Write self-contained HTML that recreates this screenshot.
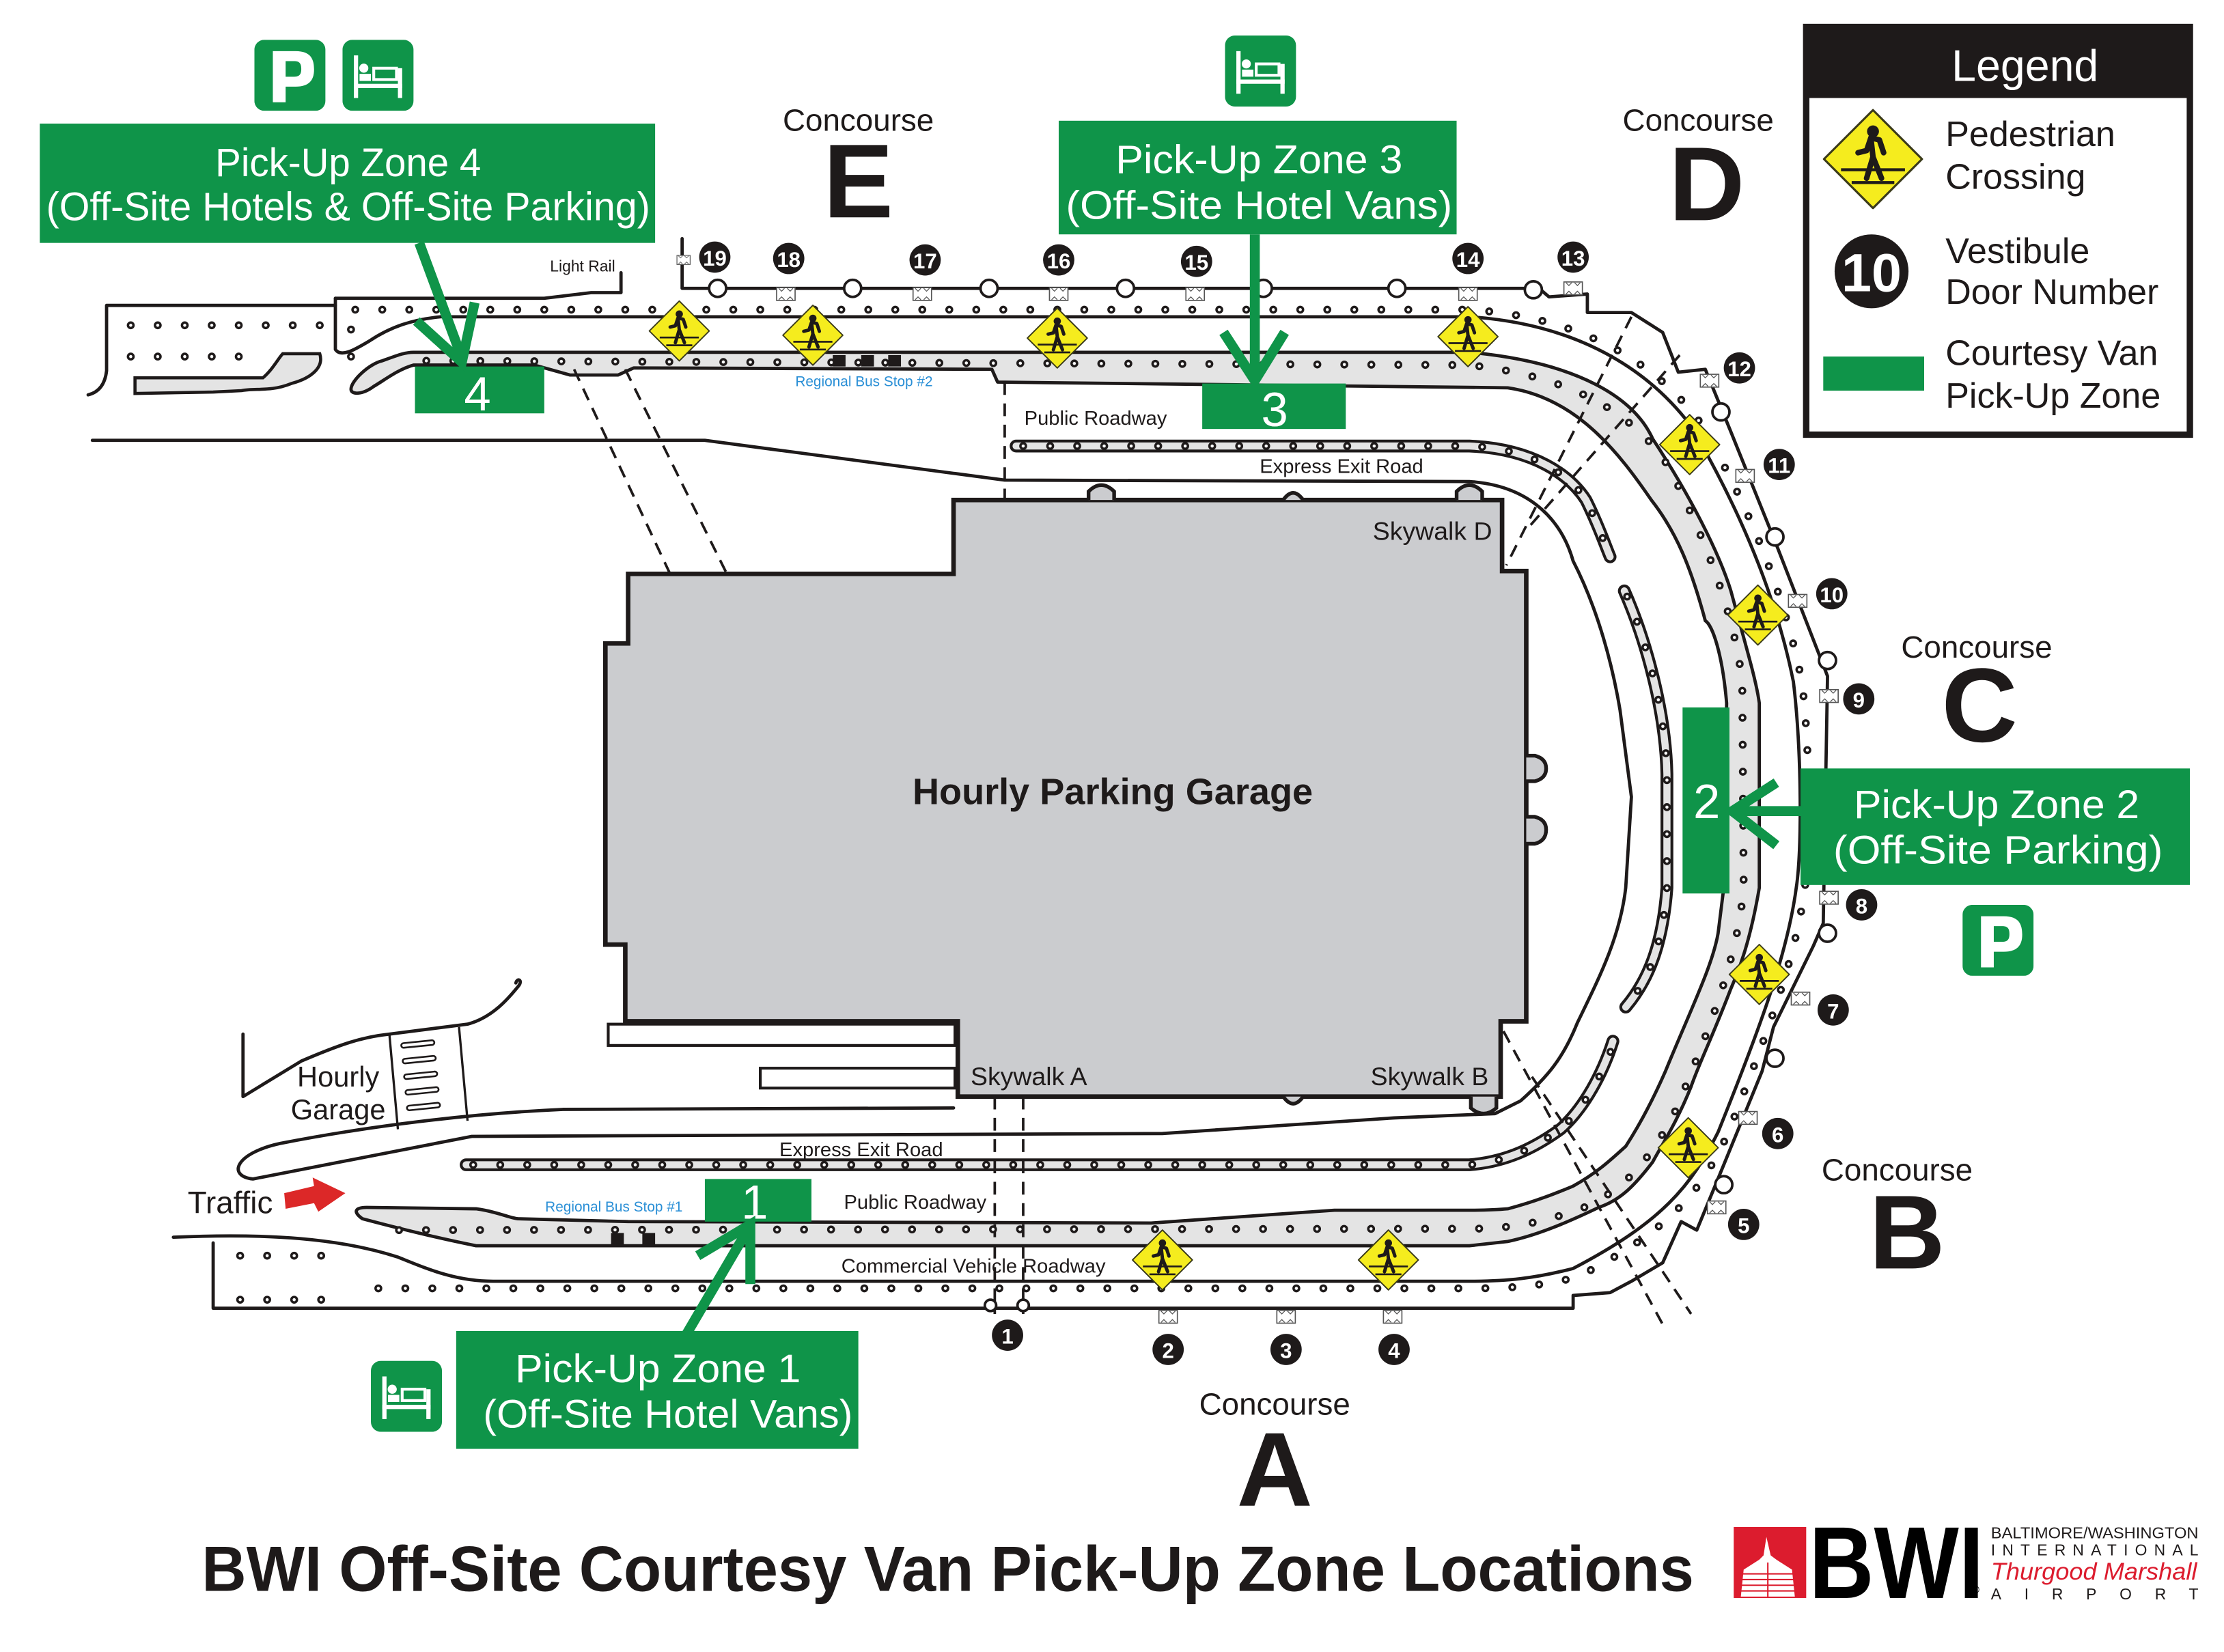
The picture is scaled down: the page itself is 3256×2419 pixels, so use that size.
<!DOCTYPE html>
<html><head><meta charset="utf-8"><style>
html,body{margin:0;padding:0;background:#fff;}
svg{display:block;}
text{font-family:"Liberation Sans",sans-serif;}
.ln{fill:none;stroke:#1e1a1a;stroke-width:2.3;stroke-linejoin:round;stroke-linecap:round}
.thin{fill:none;stroke:#1e1a1a;stroke-width:1.6}
.dsh{fill:none;stroke:#1e1a1a;stroke-width:1.8;stroke-dasharray:9 6}
.dA{fill:none;stroke:#1e1a1a;stroke-width:5.6;stroke-dasharray:0 19;stroke-linecap:round}
.dB{fill:none;stroke:#fff;stroke-width:2.2;stroke-dasharray:0 19;stroke-linecap:round}
.ga{fill:none;stroke:#0f9449;stroke-width:7;stroke-linecap:butt;stroke-linejoin:miter}
.zt{fill:#fff;font-size:28px;text-anchor:middle}
.cc{font-size:22px;text-anchor:middle;fill:#1e1a1a}
.cl{font-size:74px;font-weight:bold;text-anchor:middle;fill:#1e1a1a}
.sm{font-size:14px;fill:#1e1a1a}
.dn{fill:#fff;font-weight:bold;font-size:15px;text-anchor:middle}
</style></head><body>
<svg width="3256" height="2419" viewBox="0 0 1565 1163" preserveAspectRatio="none" xmlns="http://www.w3.org/2000/svg">
<defs>
<symbol id="ped" viewBox="-24 -24 48 48">
<polygon points="0,-23 23,0 0,23 -23,0" fill="#f5ec1e" stroke="#3a3a1a" stroke-width="1" stroke-linejoin="round"/>
<line x1="-15" y1="5" x2="15" y2="5" stroke="#1e1a1a" stroke-width="1.4"/>
<line x1="-10" y1="11" x2="10" y2="11" stroke="#1e1a1a" stroke-width="1.4"/>
<circle cx="0" cy="-13" r="2.8" fill="#1e1a1a"/>
<path d="M-1,-10 L3,-9 L5,-3 M-1,-10 L-3,-4 L-7,-3 M-1,-10 L0,-1 L-3,9 M0,-1 L4,9" stroke="#1e1a1a" stroke-width="2.6" fill="none" stroke-linecap="round" stroke-linejoin="round"/>
</symbol>
<symbol id="bed" viewBox="0 0 50 50">
<rect x="0" y="0" width="50" height="50" rx="7" fill="#0f9449"/>
<rect x="8" y="11" width="3" height="30" fill="#fff"/>
<rect x="39" y="20" width="3" height="21" fill="#fff"/>
<rect x="8" y="31" width="34" height="3" fill="#fff"/>
<circle cx="15" cy="20" r="3.2" fill="#fff"/>
<rect x="12" y="24" width="8" height="5" fill="#fff"/>
<rect x="21" y="19" width="18" height="10" fill="#fff"/>
<rect x="23" y="21" width="14" height="6" fill="#0f9449"/>
</symbol>
<symbol id="park" viewBox="0 0 50 50">
<rect x="0" y="0" width="50" height="50" rx="7" fill="#0f9449"/>
<path d="M13,44 L13,8 L29,8 C40,8 42,14 42,21 C42,29 38,33 29,33 L22,33 L22,44 Z M22,15 L22,26 L28,26 C32,26 33,24 33,20.5 C33,17 32,15 28,15 Z" fill="#fff" fill-rule="evenodd"/>
</symbol>
<symbol id="rd" viewBox="0 0 14 10">
<rect x="0.5" y="0.5" width="13" height="9" fill="#fff" stroke="#555" stroke-width="0.8"/>
<path d="M2,1 L4,3 L6,1 M8,1 L10,3 L12,1 M2,9 L4,7 L6,9 M8,9 L10,7 L12,9" stroke="#555" stroke-width="0.6" fill="none"/>
</symbol>
<path id="p1" d="M250,218 L1034,218 C1112,223 1165,255 1196,297 C1232,358 1256,420 1268,480 C1274,530 1274,600 1270,625 C1264,672 1246,722 1215,800 C1196,840 1175,866 1110,899 C1082,906 1060,907 1034,907 L255,907"/>
<path id="p2" d="M300,254 L1034,257 C1105,265 1150,290 1175,330 C1200,380 1220,430 1226,480 L1227,625 C1222,680 1200,730 1180,780 C1160,820 1140,840 1110,852 C1080,862 1060,865 1034,865 L262,866"/>
<path id="p3" d="M720,314 L1034,314 C1080,316 1105,335 1116,352 C1125,370 1130,385 1133,392"/>
<path id="p4" d="M1145,420 C1158,450 1172,500 1173,545 L1173,625 C1170,665 1160,690 1146,706"/>
<path id="p5" d="M333,820 L1034,820 C1060,818 1080,808 1098,795 C1115,780 1128,755 1135,736"/>
<path id="p6" d="M92,229 L230,229 M92,251 L175,251 M169,884 L245,884 M169,915 L245,915 M247,232 L247,252"/>
</defs>

<!-- Garage -->
<path d="M442,404 L671,404 L671,352 L1057,352 L1057,402 L1074,402 L1074,719 L1056,719 L1056,772 L674,772 L674,719 L440,719 L440,665 L426,665 L426,453 L442,453 Z" fill="#cbcccf" stroke="#1e1a1a" stroke-width="3.2"/>
<path d="M766,352 L766,346 Q775,337 784,346 L784,352 M1025,352 L1025,346 Q1034,337 1043,346 L1043,352 M903,352 Q910,342 917,352" fill="#cbcccf" stroke="#1e1a1a" stroke-width="2.6"/>
<path d="M1074,532 L1080,532 Q1088,534 1088,541 Q1088,548 1080,550 L1074,550 M1074,575 L1080,575 Q1088,577 1088,584 Q1088,592 1080,594 L1074,594" fill="#cbcccf" stroke="#1e1a1a" stroke-width="2.6"/>
<path d="M903,772 Q910,782 917,772 M1035,772 L1035,780 Q1044,788 1053,780 L1053,772" fill="#cbcccf" stroke="#1e1a1a" stroke-width="2.6"/>
<text x="783" y="566" font-size="26" font-weight="bold" text-anchor="middle" fill="#1e1a1a">Hourly Parking Garage</text>
<text x="1008" y="380" font-size="18" text-anchor="middle" fill="#1e1a1a">Skywalk D</text>
<text x="724" y="764" font-size="18" text-anchor="middle" fill="#1e1a1a">Skywalk A</text>
<text x="1006" y="764" font-size="18" text-anchor="middle" fill="#1e1a1a">Skywalk B</text>
<rect x="428" y="721" width="244" height="15" fill="#fff" stroke="#1e1a1a" stroke-width="2"/>
<rect x="535" y="752" width="137" height="14" fill="#fff" stroke="#1e1a1a" stroke-width="2"/>

<!-- Island (gray median) -->
<path d="M291,248 L1034,248 C1110,255 1150,280 1163,309 C1190,350 1210,390 1218,416 C1230,460 1236,480 1238,495 L1238,625 C1232,660 1225,680 1218,696 C1205,730 1195,750 1190,765 C1180,790 1170,805 1163,818 C1150,835 1140,845 1125,850 C1100,862 1080,870 1061,874 L1034,877 L335,877 C300,870 270,862 255,858 C248,853 250,850 258,850 L335,851 C350,853 360,858 365,858 L442,860 L810,861 L939,852 L1034,852 C1050,852 1061,851 1061,851 C1080,846 1095,840 1107,835 C1125,825 1135,815 1144,807 C1155,790 1165,770 1172,754 C1190,710 1205,680 1209,657 L1213,625 L1215,495 C1212,460 1205,440 1200,437 C1190,400 1180,375 1162,352 C1140,320 1110,280 1061,273 L702,269 L698,260 L446,259 L435,264 L401,264 L376,257 L291,257 C280,260 270,268 263,272 C255,278 247,278 247,274 C247,268 260,256 269,254 C280,250 285,248 291,248 Z" fill="#e4e4e4" stroke="#1e1a1a" stroke-width="2.3" stroke-linejoin="round"/>

<!-- Express strips -->
<path d="M715,314 L1034,314 C1080,316 1105,335 1116,352 C1125,370 1130,385 1133,392" fill="none" stroke="#1e1a1a" stroke-width="9" stroke-linecap="round"/>
<path d="M715,314 L1034,314 C1080,316 1105,335 1116,352 C1125,370 1130,385 1133,392" fill="none" stroke="#e4e4e4" stroke-width="5" stroke-linecap="round"/>
<path d="M1143,416 C1158,450 1172,500 1173,545 L1173,625 C1170,665 1160,690 1144,709" fill="none" stroke="#1e1a1a" stroke-width="9" stroke-linecap="round"/>
<path d="M1143,416 C1158,450 1172,500 1173,545 L1173,625 C1170,665 1160,690 1144,709" fill="none" stroke="#e4e4e4" stroke-width="5" stroke-linecap="round"/>
<path d="M328,820 L1034,820 C1060,818 1080,808 1098,795 C1115,780 1128,755 1135,733" fill="none" stroke="#1e1a1a" stroke-width="9" stroke-linecap="round"/>
<path d="M328,820 L1034,820 C1060,818 1080,808 1098,795 C1115,780 1128,755 1135,733" fill="none" stroke="#e4e4e4" stroke-width="5" stroke-linecap="round"/>

<!-- Curb -->
<path class="ln" d="M236,210 L236,246 C240,252 250,246 260,240 C275,230 290,225 310,223 L1034,223 C1110,228 1160,260 1190,300 C1225,360 1250,420 1262,480 C1268,530 1268,600 1264,625 C1258,670 1240,720 1209,797 C1190,835 1170,860 1107,893 C1080,900 1060,902 1034,902 L347,902 C320,902 300,893 280,885 C240,872 190,868 122,871"/>
<path class="ln" d="M236,210 L383,210 L416,206 L437,206 L437,192"/>

<!-- Terminal edge -->
<path class="ln" d="M480,168 L480,203 L1083,203 L1090,209 L1117,207 L1117,220 L1148,220 L1170,234 L1181,262 L1200,260 L1218,304 L1251,386 L1286,476 L1283,650 L1276,666 L1248,723 L1240,754 L1213,820 L1194,866 L1183,860 L1170,889 L1148,902 L1133,910 L1107,912 L1107,921 L150,921 L150,875"/>

<!-- Inner road -->
<path class="ln" d="M65,310 L496,310 L707,338 L1034,339 C1080,342 1100,370 1107,395 C1125,430 1135,470 1140,500 L1148,561 L1144,625 C1140,660 1125,689 1110,720 C1100,745 1089,758 1070,775 L1052,784 L981,787 L818,798 L332,800 L178,830 C160,828 165,812 197,805 C258,793 330,784 396,781 L671,780"/>

<!-- Top-left lot -->
<path class="ln" d="M236,215 L75,215 L75,261 C74,270 70,276 62,278"/>
<path d="M95,266 L185,266 C192,260 196,252 199,249 L225,249 C228,258 220,266 205,270 C190,276 180,273 170,275 L150,276 L95,277 Z" fill="#e4e4e4" stroke="#1e1a1a" stroke-width="2.2"/>

<!-- Hourly garage -->
<path class="ln" d="M171,728 L171,772 L212,747 C240,735 255,730 274,728 L329,721 C348,716 360,700 365,694 C368,690 364,688 363,692"/>
<path class="thin" d="M274,728 L280,795 M323,723 L329,789"/>
<g stroke="#1e1a1a" stroke-width="4.5" stroke-linecap="round"><line x1="284" y1="736" x2="304" y2="734"/><line x1="285" y1="747" x2="305" y2="745"/><line x1="286" y1="758" x2="306" y2="756"/><line x1="287" y1="769" x2="307" y2="767"/><line x1="288" y1="780" x2="308" y2="778"/></g>
<g stroke="#fff" stroke-width="2" stroke-linecap="round"><line x1="284" y1="736" x2="304" y2="734"/><line x1="285" y1="747" x2="305" y2="745"/><line x1="286" y1="758" x2="306" y2="756"/><line x1="287" y1="769" x2="307" y2="767"/><line x1="288" y1="780" x2="308" y2="778"/></g>
<text x="238" y="765" font-size="20" text-anchor="middle" fill="#1e1a1a">Hourly</text>
<text x="238" y="788" font-size="20" text-anchor="middle" fill="#1e1a1a">Garage</text>

<!-- Dashed walkways -->
<path class="dsh" d="M404,260 L472,405 M440,260 L512,405 M707,269 L707,352 M700,772 L700,925 M720,772 L720,925 M1148,223 L1060,398 M1182,250 L1075,372 M1058,726 L1172,936 M1078,758 L1190,925"/>

<!-- Dots -->
<g class="dA"><use href="#p1"/><use href="#p2"/><use href="#p3"/><use href="#p4"/><use href="#p5"/><use href="#p6"/></g>
<g class="dB"><use href="#p1"/><use href="#p2"/><use href="#p3"/><use href="#p4"/><use href="#p5"/><use href="#p6"/></g>

<!-- Bus stop markers -->
<g fill="#1e1a1a"><rect x="586" y="250" width="9" height="8"/><rect x="606" y="250" width="9" height="8"/><rect x="625" y="250" width="9" height="8"/><rect x="430" y="868" width="9" height="8"/><rect x="452" y="868" width="9" height="8"/></g>

<!-- Door rings -->
<g fill="#fff" stroke="#1e1a1a" stroke-width="1.8">
<circle cx="505" cy="203" r="6"/><circle cx="600" cy="203" r="6"/><circle cx="696" cy="203" r="6"/><circle cx="792" cy="203" r="6"/><circle cx="889" cy="203" r="6"/><circle cx="983" cy="203" r="6"/><circle cx="1079" cy="204" r="6"/>
<circle cx="1211" cy="290" r="6"/><circle cx="1249" cy="378" r="6"/><circle cx="1286" cy="465" r="6"/><circle cx="1286" cy="657" r="6"/><circle cx="1249" cy="745" r="6"/><circle cx="1213" cy="834" r="6"/>
<circle cx="697" cy="919" r="4"/><circle cx="720" cy="919" r="4"/>
</g>
<g>
<use href="#rd" x="546" y="202" width="14" height="10"/><use href="#rd" x="642" y="202" width="14" height="10"/><use href="#rd" x="738" y="202" width="14" height="10"/><use href="#rd" x="834" y="202" width="14" height="10"/><use href="#rd" x="1026" y="202" width="14" height="10"/><use href="#rd" x="1100" y="198" width="14" height="10"/><use href="#rd" x="476" y="176" width="10" height="14"/>
<use href="#rd" x="1196" y="262" width="14" height="12"/><use href="#rd" x="1221" y="329" width="14" height="12"/><use href="#rd" x="1258" y="417" width="14" height="12"/><use href="#rd" x="1280" y="484" width="14" height="12"/><use href="#rd" x="1280" y="626" width="14" height="12"/><use href="#rd" x="1260" y="697" width="14" height="12"/><use href="#rd" x="1223" y="781" width="14" height="12"/><use href="#rd" x="1201" y="844" width="14" height="12"/>
<use href="#rd" x="815" y="922" width="14" height="10"/><use href="#rd" x="898" y="922" width="14" height="10"/><use href="#rd" x="973" y="922" width="14" height="10"/>
</g>

<!-- Pedestrian crossings -->
<g>
<use href="#ped" x="456" y="211" width="44" height="44"/><use href="#ped" x="550" y="214" width="44" height="44"/><use href="#ped" x="722" y="216" width="44" height="44"/><use href="#ped" x="1011" y="215" width="44" height="44"/>
<use href="#ped" x="1167" y="291" width="44" height="44"/><use href="#ped" x="1215" y="411" width="44" height="44"/><use href="#ped" x="1216" y="664" width="44" height="44"/><use href="#ped" x="1166" y="786" width="44" height="44"/>
<use href="#ped" x="796" y="865" width="44" height="44"/><use href="#ped" x="955" y="865" width="44" height="44"/>
</g>

<!-- Door numbers -->
<g>
<circle cx="503" cy="181" r="11" fill="#1e1a1a"/><text class="dn" x="503" y="187">19</text>
<circle cx="555" cy="182" r="11" fill="#1e1a1a"/><text class="dn" x="555" y="188">18</text>
<circle cx="651" cy="183" r="11" fill="#1e1a1a"/><text class="dn" x="651" y="189">17</text>
<circle cx="745" cy="183" r="11" fill="#1e1a1a"/><text class="dn" x="745" y="189">16</text>
<circle cx="842" cy="184" r="11" fill="#1e1a1a"/><text class="dn" x="842" y="190">15</text>
<circle cx="1033" cy="182" r="11" fill="#1e1a1a"/><text class="dn" x="1033" y="188">14</text>
<circle cx="1107" cy="181" r="11" fill="#1e1a1a"/><text class="dn" x="1107" y="187">13</text>
<circle cx="1224" cy="259" r="11" fill="#1e1a1a"/><text class="dn" x="1224" y="265">12</text>
<circle cx="1252" cy="327" r="11" fill="#1e1a1a"/><text class="dn" x="1252" y="333">11</text>
<circle cx="1289" cy="418" r="11" fill="#1e1a1a"/><text class="dn" x="1289" y="424">10</text>
<circle cx="1308" cy="492" r="11" fill="#1e1a1a"/><text class="dn" x="1308" y="498">9</text>
<circle cx="1310" cy="637" r="11" fill="#1e1a1a"/><text class="dn" x="1310" y="643">8</text>
<circle cx="1290" cy="711" r="11" fill="#1e1a1a"/><text class="dn" x="1290" y="717">7</text>
<circle cx="1251" cy="798" r="11" fill="#1e1a1a"/><text class="dn" x="1251" y="804">6</text>
<circle cx="1227" cy="862" r="11" fill="#1e1a1a"/><text class="dn" x="1227" y="868">5</text>
<circle cx="709" cy="940" r="11" fill="#1e1a1a"/><text class="dn" x="709" y="946">1</text>
<circle cx="822" cy="950" r="11" fill="#1e1a1a"/><text class="dn" x="822" y="956">2</text>
<circle cx="905" cy="950" r="11" fill="#1e1a1a"/><text class="dn" x="905" y="956">3</text>
<circle cx="981" cy="950" r="11" fill="#1e1a1a"/><text class="dn" x="981" y="956">4</text>
</g>

<!-- Road labels -->
<text x="410" y="191" font-size="11" text-anchor="middle" fill="#1e1a1a">Light Rail</text>
<text x="608" y="272" font-size="10" text-anchor="middle" fill="#2a8fd6">Regional Bus Stop #2</text>
<text class="sm" x="771" y="299" text-anchor="middle">Public Roadway</text>
<text class="sm" x="944" y="333" text-anchor="middle">Express Exit Road</text>
<text class="sm" x="606" y="814" text-anchor="middle">Express Exit Road</text>
<text x="432" y="853" font-size="10" text-anchor="middle" fill="#2a8fd6">Regional Bus Stop #1</text>
<text class="sm" x="644" y="851" text-anchor="middle">Public Roadway</text>
<text class="sm" x="685" y="896" text-anchor="middle">Commercial Vehicle Roadway</text>
<text x="162" y="854" font-size="22" text-anchor="middle" fill="#1e1a1a">Traffic</text>
<polygon points="200,840 221,835 220,829 243,840 224,853 221,847 201,851" fill="#dc2828"/>

<!-- Concourses -->
<text class="cc" x="604" y="92">Concourse</text><text class="cl" x="604" y="153">E</text>
<text class="cc" x="1195" y="92">Concourse</text><text class="cl" x="1201" y="155">D</text>
<text class="cc" x="1391" y="463">Concourse</text><text class="cl" x="1393" y="522">C</text>
<text class="cc" x="1335" y="831">Concourse</text><text class="cl" x="1342" y="893">B</text>
<text class="cc" x="897" y="996">Concourse</text><text class="cl" x="897" y="1060">A</text>

<!-- Green zone markers -->
<rect x="292" y="258" width="91" height="33" fill="#0f9449"/><text x="336" y="289" font-size="34" fill="#fff" text-anchor="middle">4</text>
<rect x="846" y="270" width="101" height="32" fill="#0f9449"/><text x="897" y="300" font-size="34" fill="#fff" text-anchor="middle">3</text>
<rect x="1184" y="498" width="33" height="131" fill="#0f9449"/><text x="1201" y="576" font-size="34" fill="#fff" text-anchor="middle">2</text>
<rect x="496" y="830" width="75" height="30" fill="#0f9449"/><text x="531" y="858" font-size="34" fill="#fff" text-anchor="middle">1</text>

<!-- Zone boxes -->
<rect x="28" y="87" width="433" height="84" fill="#0f9449"/>
<text class="zt" x="245" y="124" textLength="187" lengthAdjust="spacingAndGlyphs">Pick-Up Zone 4</text>
<text class="zt" x="245" y="155" textLength="425" lengthAdjust="spacingAndGlyphs">(Off-Site Hotels &amp; Off-Site Parking)</text>
<rect x="745" y="85" width="280" height="80" fill="#0f9449"/>
<text class="zt" x="886" y="122" textLength="202" lengthAdjust="spacingAndGlyphs">Pick-Up Zone 3</text>
<text class="zt" x="886" y="154" textLength="272" lengthAdjust="spacingAndGlyphs">(Off-Site Hotel Vans)</text>
<rect x="1267" y="541" width="274" height="82" fill="#0f9449"/>
<text class="zt" x="1405" y="576" textLength="201" lengthAdjust="spacingAndGlyphs">Pick-Up Zone 2</text>
<text class="zt" x="1406" y="608" textLength="232" lengthAdjust="spacingAndGlyphs">(Off-Site Parking)</text>
<rect x="321" y="937" width="283" height="83" fill="#0f9449"/>
<text class="zt" x="463" y="973" textLength="201" lengthAdjust="spacingAndGlyphs">Pick-Up Zone 1</text>
<text class="zt" x="470" y="1005" textLength="260" lengthAdjust="spacingAndGlyphs">(Off-Site Hotel Vans)</text>

<!-- Green arrows -->
<path class="ga" d="M295,171 L325,252 M293,226 L325,255 L334,213"/>
<path class="ga" d="M883,165 L883,266 M861,234 L883,268 L904,234"/>
<path class="ga" d="M1268,571 L1222,571 M1250,551 L1219,571 L1250,595"/>
<path class="ga" d="M482,941 L526,866 M491,884 L528,862 L528,904"/>

<!-- Icons -->
<use href="#park" x="179" y="28" width="50" height="50"/>
<use href="#bed" x="241" y="28" width="50" height="50"/>
<use href="#bed" x="862" y="25" width="50" height="50"/>
<use href="#bed" x="261" y="958" width="50" height="50"/>
<use href="#park" x="1381" y="637" width="50" height="50"/>

<!-- Legend -->
<rect x="1271" y="19" width="270" height="287" fill="#fff" stroke="#1e1a1a" stroke-width="4.5"/>
<rect x="1271" y="19" width="270" height="50" fill="#1e1a1a"/>
<text x="1425" y="57" font-size="31" fill="#fff" text-anchor="middle">Legend</text>
<use href="#ped" x="1282" y="76" width="72" height="72"/>
<text x="1369" y="103" font-size="25" fill="#1e1a1a">Pedestrian</text>
<text x="1369" y="133" font-size="25" fill="#1e1a1a">Crossing</text>
<circle cx="1317" cy="191" r="26" fill="#1e1a1a"/>
<text x="1317" y="205" font-size="38" fill="#fff" text-anchor="middle" font-weight="bold">10</text>
<text x="1369" y="185" font-size="25" fill="#1e1a1a">Vestibule</text>
<text x="1369" y="214" font-size="25" fill="#1e1a1a">Door Number</text>
<rect x="1283" y="251" width="71" height="24" fill="#0f9449"/>
<text x="1369" y="257" font-size="25" fill="#1e1a1a">Courtesy Van</text>
<text x="1369" y="287" font-size="25" fill="#1e1a1a">Pick-Up Zone</text>

<!-- Title -->
<text x="142" y="1120" font-size="45" font-weight="bold" fill="#1e1a1a" textLength="1050" lengthAdjust="spacingAndGlyphs">BWI Off-Site Courtesy Van Pick-Up Zone Locations</text>

<!-- Logo -->
<rect x="1220" y="1075" width="51" height="50" fill="#dc1c2e"/>
<path d="M1243,1082 L1241,1095 L1238,1098 L1227,1105 L1225,1124 L1263,1124 L1261,1105 L1250,1098 L1246,1095 Z" fill="#fff"/>
<g stroke="#dc1c2e" stroke-width="1"><line x1="1224" y1="1108" x2="1266" y2="1108"/><line x1="1224" y1="1112" x2="1266" y2="1112"/><line x1="1224" y1="1116" x2="1266" y2="1116"/><line x1="1224" y1="1120" x2="1266" y2="1120"/><line x1="1244" y1="1100" x2="1244" y2="1125"/></g>
<text x="1273" y="1125" font-size="72" font-weight="bold" fill="#000" textLength="123" lengthAdjust="spacingAndGlyphs">BWI</text>
<text x="1387" y="1122" font-size="8" fill="#000">®</text>
<text x="1401" y="1083" font-size="11" fill="#1e1a1a" textLength="146" lengthAdjust="spacingAndGlyphs">BALTIMORE/WASHINGTON</text>
<text x="1401" y="1095" font-size="11" fill="#1e1a1a" textLength="146" lengthAdjust="spacing">INTERNATIONAL</text>
<text x="1401" y="1112" font-size="17" font-style="italic" fill="#dc1c2e" font-family="Liberation Serif, serif" textLength="145" lengthAdjust="spacingAndGlyphs">Thurgood Marshall</text>
<text x="1401" y="1126" font-size="11" fill="#1e1a1a" textLength="146" lengthAdjust="spacing">AIRPORT</text>
</svg>
</body></html>
